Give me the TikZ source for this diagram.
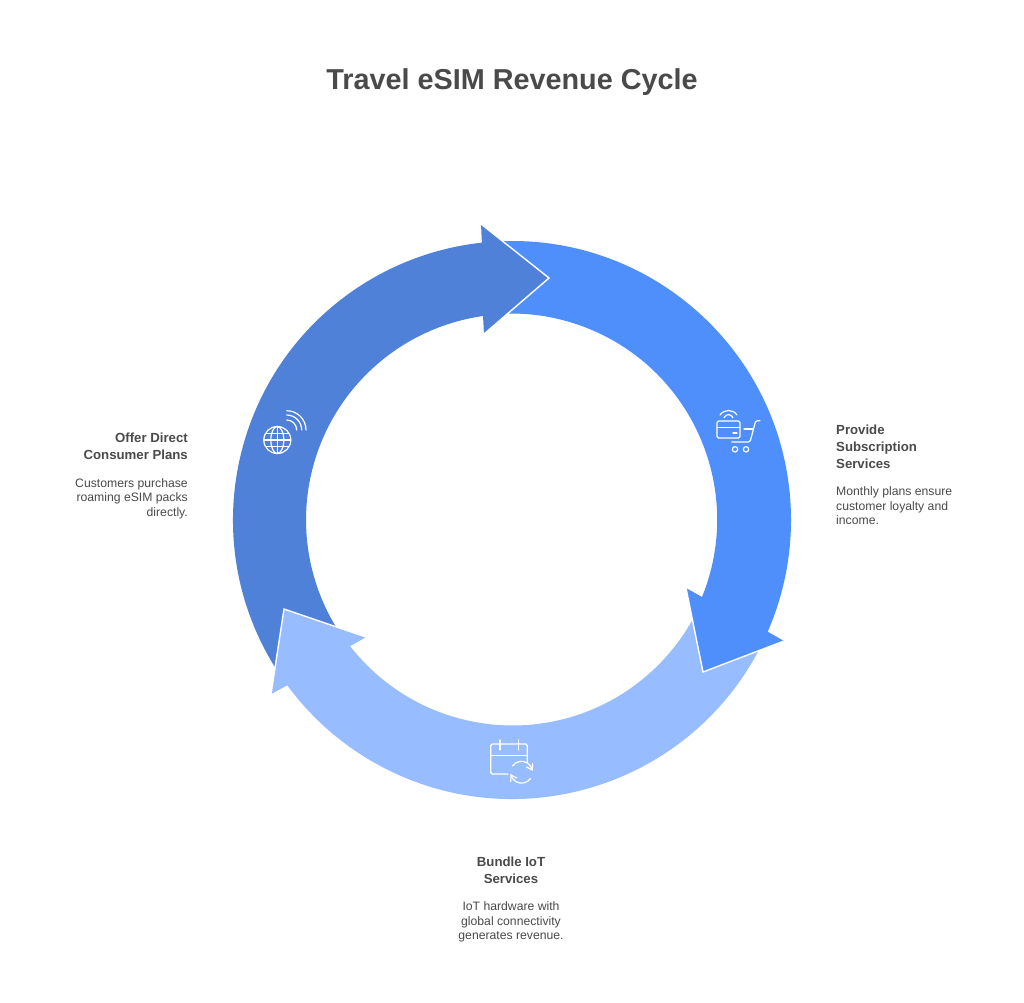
\documentclass[tikz,border=0pt]{standalone}
\usepackage{fontspec}
\setmainfont{Liberation Sans}
\definecolor{darkband}{HTML}{4F81D8}
\definecolor{midband}{HTML}{4E8FFB}
\definecolor{lightband}{HTML}{97BCFF}
\definecolor{ink}{HTML}{4A4A4A}
\tikzset{
  edgeline/.style={draw=white,line width=1.4pt,line join=miter},
  iconline/.style={draw=white,line width=1.2pt,line cap=round,line join=round,fill=none},
  titletext/.style={text=ink,font=\bfseries\fontsize{28.8}{34}\selectfont,inner sep=0pt},
  headtext/.style={text=ink,font=\bfseries\fontsize{13.2}{17}\selectfont,inner sep=0pt},
  bodytext/.style={text=ink,font=\fontsize{12.2}{14.6}\selectfont,inner sep=0pt},
}
\begin{document}
\begin{tikzpicture}[x=1pt,y=1pt]
\useasboundingbox (0,0) rectangle (1024,-1002);
\fill[white] (0,0) rectangle (1024,-1002);
\coordinate (c) at (512,-520);
% light arrow
\begin{scope}[shift={(c)}]
\fill[lightband] (-26:279) arc[start angle=-26,end angle=-143.7,radius=279]
  -- (271-512,-694+520) -- (284-512,-609+520) -- (366-512,-637+520) -- (350-512,-646+520)
  arc[start angle=-142.1,end angle=-26,radius=206] -- cycle;
% mid arrow
\fill[midband] (93:279) arc[start angle=93,end angle=-23.6,radius=279]
  -- (784-512,-641+520) -- (703-512,-672+520) -- (686-512,-588+520) -- (702-512,-597+520)
  arc[start angle=-22.1,end angle=93,radius=206] -- cycle;
\draw[edgeline] (784-512,-641+520) -- (703-512,-672+520) -- (686-512,-588+520);
% dark arrow
\fill[darkband] (213:279) arc[start angle=213,end angle=96.2,radius=279]
  -- (481-512,-224+520) -- (549-512,-278+520) -- (484-512,-334+520) -- (483-512,-316+520)
  arc[start angle=98.1,end angle=213,radius=206] -- cycle;
\draw[edgeline] (481-512,-224+520) -- (549-512,-278+520) -- (484-512,-334+520);
% light head on top of the dark tail
\fill[lightband] (-143.7:279) -- (271-512,-694+520) -- (284-512,-609+520) -- (366-512,-637+520) -- (350-512,-646+520) -- cycle;
\draw[edgeline] (271-512,-694+520) -- (284-512,-609+520) -- (366-512,-637+520);
\end{scope}
% globe icon
\begin{scope}[iconline]
\draw (277.3,-440) circle[radius=13.5];
\draw (277.3,-440) ellipse[x radius=6.5,y radius=13.5];
\draw (277.3,-426.5) -- (277.3,-453.5);
\draw (263.8,-440) -- (290.8,-440);
\draw (265.6,-433.3) -- (289,-433.3);
\draw (265.6,-446.7) -- (289,-446.7);
\draw (286.7,-410.7) arc[start angle=90,end angle=0,radius=19.3];
\draw (286.7,-415) arc[start angle=90,end angle=0,radius=15];
\draw (286.7,-420) arc[start angle=90,end angle=0,radius=10];
% cart icon
\draw[rounded corners=1.5pt] (717,-421) rectangle (740,-438);
\draw (717,-427.5) -- (740,-427.5);
\draw (733,-433) -- (737,-433);
\draw (720,-415) .. controls (724,-409) and (733,-409) .. (737,-415);
\draw (724,-417.7) .. controls (726.5,-413.5) and (730.5,-413.5) .. (733,-417.7);
\draw[rounded corners=1.5pt] (760,-420.7) -- (755.7,-420.7) -- (750,-442) -- (731.7,-442);
\draw (744,-429) -- (753,-429);
\draw (735,-449.3) circle[radius=2.7];
\draw (746,-449.3) circle[radius=2.7];
% calendar icon
\draw[rounded corners=1.5pt] (508,-774) -- (490.7,-774) -- (490.7,-744) -- (527.3,-744) -- (527.3,-762);
\draw (490.7,-755.7) -- (527.3,-755.7);
\draw (500,-740) -- (500,-750);
\draw (518.3,-740) -- (518.3,-750);
\draw (512.5,-766) arc[start angle=145,end angle=15,radius=11];
\draw (532.3,-770) -- (532.6,-763.5);
\draw (532.3,-770) -- (526.6,-767);
\draw (510.9,-775) arc[start angle=195,end angle=325,radius=11];
\draw (511,-775) -- (510.8,-781.5);
\draw (511,-775) -- (516.8,-778);
\end{scope}
% texts
\node[titletext] (title) at (512,-82.5) {Travel eSIM Revenue Cycle};
\node[headtext,anchor=east,align=right] (offerhead) at (188,-446.5) {Offer Direct\\Consumer Plans};
\node[bodytext,anchor=east,align=right] (offerbody) at (188,-498.5) {Customers purchase\\roaming eSIM packs\\directly.};
\node[headtext,anchor=west,align=left] (provhead) at (836,-447) {Provide\\Subscription\\Services};
\node[bodytext,anchor=west,align=left] (provbody) at (836,-506) {Monthly plans ensure\\customer loyalty and\\income.};
\node[headtext,align=center] (bundlehead) at (511,-870.5) {Bundle IoT\\Services};
\node[bodytext,align=center] (bundlebody) at (511,-922) {IoT hardware with\\global connectivity\\generates revenue.};
\end{tikzpicture}
\end{document}
